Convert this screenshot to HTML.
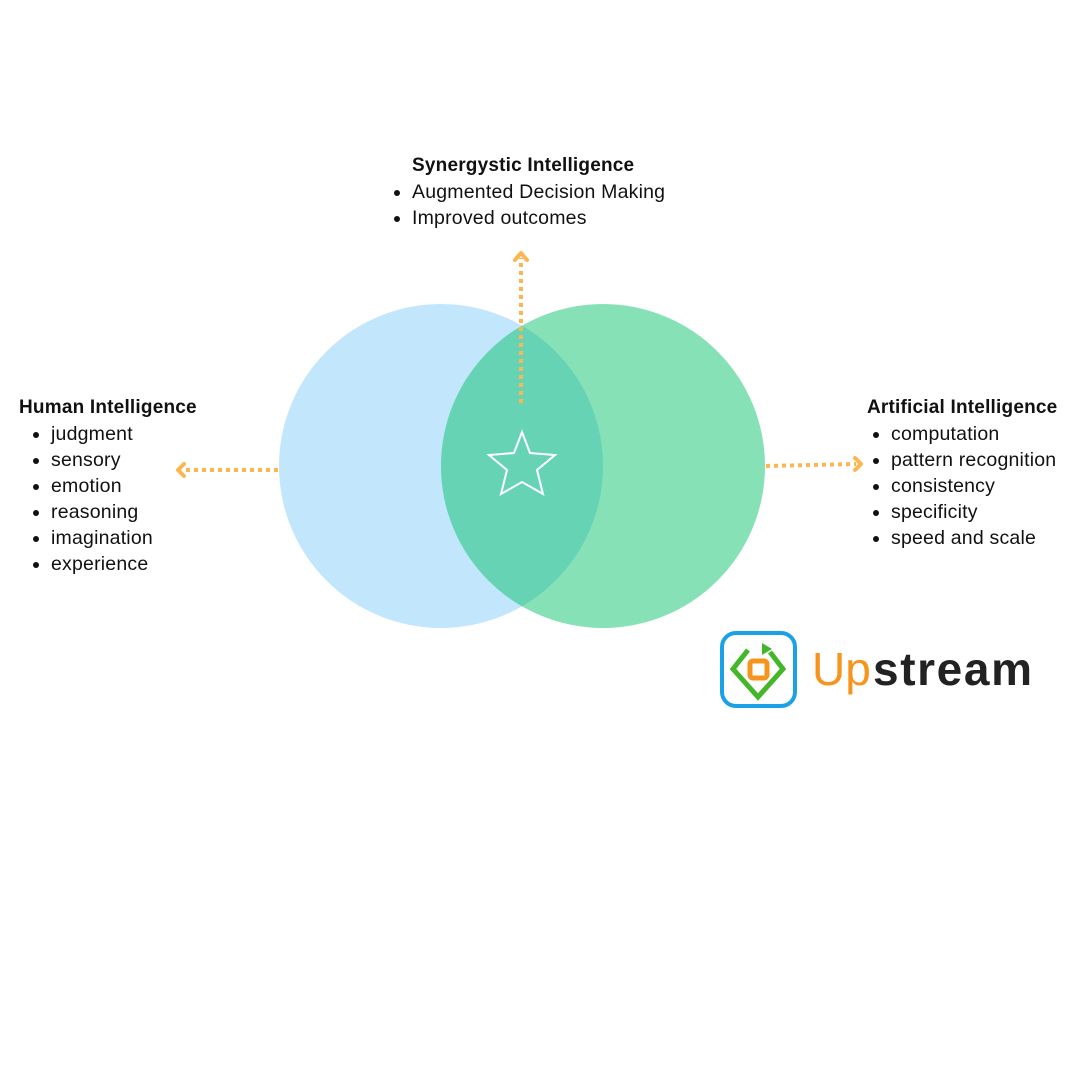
<!DOCTYPE html>
<html><head><style>
body{margin:0;width:1080px;height:1080px;background:#fff;position:relative;overflow:hidden;font-family:"Liberation Sans",sans-serif;color:#111;}
.blk{position:absolute;font-size:19.5px;line-height:26px;letter-spacing:0.2px;}
.blk b{display:block;font-weight:bold;font-size:19px;}
.blk ul{margin:0;padding-left:32px;}
</style></head><body>
<svg width="1080" height="1080" style="position:absolute;left:0;top:0">
<defs><clipPath id="c"><circle cx="441" cy="466" r="162"/></clipPath></defs>
<circle cx="441" cy="466" r="162" fill="#c2e6fc"/>
<circle cx="603" cy="466" r="162" fill="#87e1b7"/>
<circle cx="603" cy="466" r="162" fill="#66d4b4" clip-path="url(#c)"/>
<polygon points="522,432 530,453 555,455 537,470 543,494 522,482 501,494 507,470 489,455 514,453" fill="none" stroke="#fff" stroke-width="2"/>
<g stroke="#fdb64f" stroke-width="4" fill="none" stroke-dasharray="4,4">
<line x1="521" y1="403" x2="521" y2="258"/>
<line x1="278" y1="470" x2="184" y2="470"/>
<line x1="766" y1="466" x2="856" y2="464"/>
</g>
<g stroke="#fdb64f" stroke-width="4" fill="none" stroke-linecap="round" stroke-linejoin="round">
<polyline points="515,260 521,253 527,260"/>
<polyline points="184,464 178,470 184,476"/>
<polyline points="855,458 861,464 855,470"/>
</g>
<rect x="722" y="633" width="73" height="73" rx="14" fill="none" stroke="#1ba1e6" stroke-width="4"/>
<path d="M748,650 L733,669 L758,697 L783,669 L770,652" fill="none" stroke="#43b62a" stroke-width="5"/>
<polygon points="762,643 772,649 762,655" fill="#43b62a"/>
<rect x="750" y="661" width="17" height="17" rx="3" fill="none" stroke="#f7941d" stroke-width="5"/>
<text x="812" y="685" font-family="Liberation Sans" font-size="46" fill="#f7941d">Up</text>
<text x="873" y="685" font-family="Liberation Sans" font-size="46" font-weight="bold" fill="#222" textLength="159">stream</text>
</svg>
<div class="blk" style="left:19px;top:395px"><b>Human Intelligence</b><ul><li>judgment</li><li>sensory</li><li>emotion</li><li>reasoning</li><li>imagination</li><li>experience</li></ul></div>
<div class="blk" style="left:867px;top:395px"><b>Artificial Intelligence</b><ul style="padding-left:24px"><li>computation</li><li>pattern recognition</li><li>consistency</li><li>specificity</li><li>speed and scale</li></ul></div>
<div class="blk" style="left:412px;top:153px"><b>Synergystic Intelligence</b><ul style="padding-left:0"><li>Augmented Decision Making</li><li>Improved outcomes</li></ul></div>
</body></html>
